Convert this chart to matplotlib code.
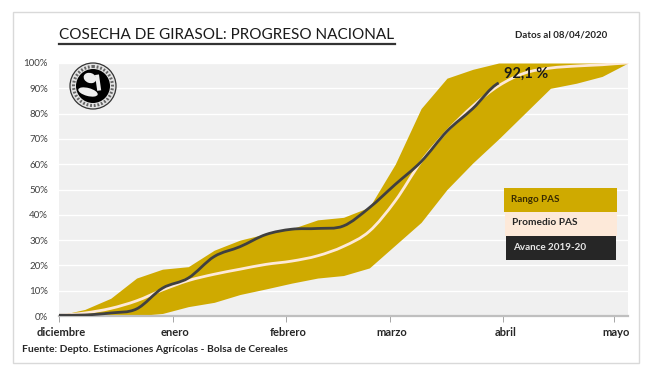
import matplotlib.pyplot as plt
from matplotlib.patches import Circle, Ellipse, PathPatch, Rectangle
from matplotlib.path import Path
from matplotlib.transforms import ScaledTranslation

plt.rcParams['font.family'] = ['Lato', 'DejaVu Sans']

# Datos semanales
semanas = list(range(23))
rango_max = [0.3, 2.6, 7, 15, 18.5, 19.5, 26, 30, 32.5, 34.5, 38, 39, 43, 60, 82, 94, 97.5, 100, 100, 100, 100, 100, 100]
rango_min = [0, 0, 0, 0.1, 1, 3.7, 5.4, 8.5, 10.7, 13, 15, 16, 19, 28, 37, 50, 60.5, 70, 80, 90, 92, 94.7, 100]
promedio = [0.3, 1.2, 3, 6, 10.3, 14, 16.5, 18.5, 20.4, 21.7, 23.8, 27.5, 33.5, 45.5, 61, 73, 83, 91, 96, 98, 98.8, 99.3, 100]
avance = [0.3, 0.4, 1.2, 2.8, 11, 15, 23.5, 27.4, 32.2, 34.3, 34.6, 35.6, 42.8, 52, 61, 73, 82, 92.1]

meses = ['diciembre', 'enero', 'febrero', 'marzo', 'abril', 'mayo']
meses_pos = [0, 4.39, 8.78, 12.79, 17.18, 21.46]
y_ticks = list(range(0, 101, 10))


# linea suavizada como la de Excel: bezier que pasa por cada valor
def linea_suave(xs, ys, color, z):
    verts = [(xs[0], ys[0])]
    for i in range(len(xs) - 1):
        y0 = ys[max(i - 1, 0)]
        y3 = ys[min(i + 2, len(ys) - 1)]
        verts.append((xs[i] + 1 / 3, ys[i] + (ys[i + 1] - y0) / 6))
        verts.append((xs[i + 1] - 1 / 3, ys[i + 1] - (y3 - ys[i]) / 6))
        verts.append((xs[i + 1], ys[i + 1]))
    codes = [Path.MOVETO] + [Path.CURVE4] * (len(verts) - 1)
    return PathPatch(Path(verts, codes), fill=False, ec=color, lw=2, zorder=z)


fig = plt.figure(figsize=(6.5, 3.74), dpi=100)

ax = fig.add_axes([59 / 650, 1 - 316 / 374, 569 / 650, 253 / 374], facecolor='#f0f0f0')
ax.fill_between(semanas, rango_min, rango_max, color='#cfaa00', lw=0, zorder=2)
ax.add_patch(linea_suave(semanas, promedio, '#fde9d9', 3))
ax.add_patch(linea_suave(semanas[:len(avance)], avance, '#404040', 4))

ax.set_xlim(0, 22)
ax.set_ylim(0, 100)
ax.set_yticks(y_ticks)
ax.set_yticklabels([f'{v}%' for v in y_ticks], fontsize=7, color='#404040')
ax.set_xticks(meses_pos)
ax.set_xticklabels(meses, fontsize=8, fontweight='bold', color='#262626')
ax.tick_params(axis='y', length=0, pad=8)
ax.tick_params(axis='x', length=4, width=0.7, color='#a6a6a6', pad=4)
corrimiento = ScaledTranslation(2 / 100, 0, fig.dpi_scale_trans)
for etiqueta in ax.get_xticklabels():
    etiqueta.set_transform(etiqueta.get_transform() + corrimiento)
ax.grid(axis='y', color='white', lw=1, zorder=1)
ax.set_axisbelow(True)
for lado in ['top', 'left', 'right']:
    ax.spines[lado].set_visible(False)
ax.spines['bottom'].set_color('#bfbfbf')
ax.spines['bottom'].set_linewidth(1.6)
ax.text(17.2, 95.7, '92,1 %', fontsize=10.5, fontweight='bold', color='#1a1a1a', va='center', zorder=5)

# capa en pixeles para marco, titulo, leyenda y logo
capa = fig.add_axes([0, 0, 1, 1], facecolor='none')
capa.set_xlim(0, 650)
capa.set_ylim(374, 0)
capa.axis('off')

capa.add_patch(Rectangle((12.5, 11.5), 626.5, 351.5, fill=False, ec='#d9d9d9', lw=1))
capa.text(59, 34.5, 'COSECHA DE GIRASOL: PROGRESO NACIONAL', fontsize=11, color='#1a1a1a', va='center')
capa.plot([59, 395], [43.5, 43.5], color='#333333', lw=1.6)
capa.text(515, 35, 'Datos al 08/04/2020', fontsize=7, fontweight='bold', color='#262626', va='center')
capa.text(22, 349, 'Fuente: Depto. Estimaciones Agrícolas - Bolsa de Cereales', fontsize=7.4,
          fontweight='bold', color='#262626', va='center')

capa.add_patch(Rectangle((504, 188), 113, 23.5, fc='#cfaa00', ec='none'))
capa.add_patch(Rectangle((505, 211.5), 112, 24.5, fc='#fde9d9', ec='none'))
capa.add_patch(Rectangle((506, 236), 110, 24, fc='#262626', ec='none'))
capa.text(511, 199.5, 'Rango PAS', fontsize=7.1, fontweight='bold', color='#3a2c00', va='center')
capa.text(512, 222.5, 'Promedio PAS', fontsize=7.3, fontweight='bold', color='#262626', va='center')
capa.text(513, 247.5, 'Avance 2019-20', fontsize=7.1, fontweight='bold', color='#e8e8e8', va='center')

# logo
capa.add_patch(Circle((93, 86), 23, fc='#e4e4e4', ec='#333333', lw=0.9))
capa.add_patch(Circle((93, 86), 19.5, fill=False, ec='#666666', lw=2.2, ls=(0, (0.6, 0.6))))
capa.add_patch(Circle((93, 86), 17, fc='black', ec='none'))
capa.add_patch(Ellipse((90, 78), 13, 10, angle=20, fc='#eeeeee', ec='none'))
capa.add_patch(Ellipse((88, 92), 20, 8, angle=15, fc='#eeeeee', ec='none'))
capa.add_patch(Rectangle((95, 75), 4, 16, angle=-8, fc='#eeeeee', ec='none'))

fig.savefig('out.png', dpi=100)
